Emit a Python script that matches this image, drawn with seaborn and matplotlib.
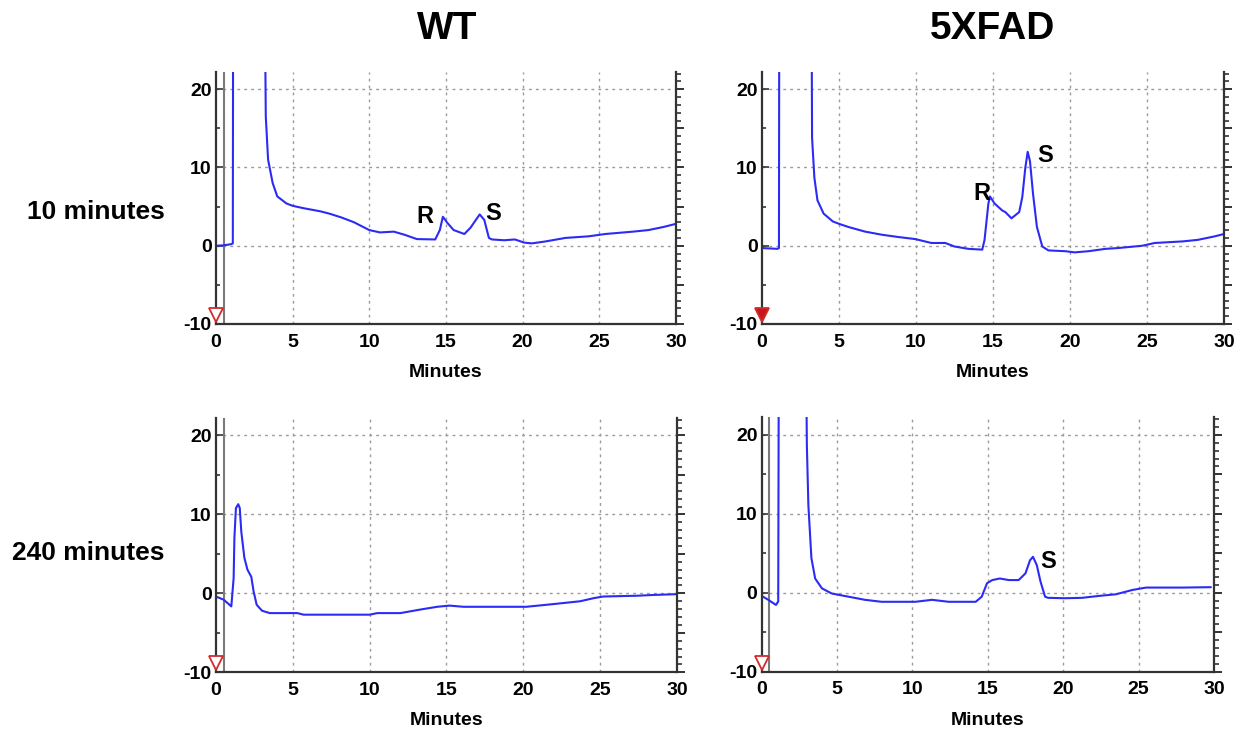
import numpy as np
import pandas as pd
import matplotlib.pyplot as plt
import matplotlib.transforms as mtransforms
from matplotlib.ticker import MultipleLocator
import seaborn as sns

# chromatogram traces (minutes, signal); values above the y limit are clipped spikes
wt10_t = [0, 0.5, 1.0, 1.1, 1.15, 2.2, 3.15, 3.25, 3.4, 3.7, 4.0, 4.6, 5.0, 5.7, 6.8, 7.4, 8.2, 9.0,
          10.0, 10.7, 11.6, 12.3, 13.1, 14.3, 14.6, 14.8, 15.1, 15.5, 16.2, 16.6, 17.2, 17.5, 17.8,
          18.0, 18.8, 19.5, 20.1, 20.6, 21.5, 22.8, 24.3, 25.4, 27.2, 28.2, 29.2, 30.0]
wt10_y = [0.0, 0.05, 0.2, 0.3, 80, 120, 40, 16.5, 11.0, 8.0, 6.3, 5.4, 5.1, 4.8, 4.4, 4.1, 3.6, 3.0,
          2.0, 1.7, 1.8, 1.4, 0.85, 0.8, 2.0, 3.7, 2.9, 2.0, 1.5, 2.3, 4.0, 3.3, 1.0,
          0.8, 0.7, 0.8, 0.4, 0.3, 0.55, 1.0, 1.2, 1.5, 1.8, 2.0, 2.4, 2.8]

fad10_t = [0, 0.5, 1.0, 1.1, 1.15, 2.2, 3.2, 3.25, 3.4, 3.6, 4.0, 4.6, 5.0, 5.6, 6.7, 7.8, 8.9, 9.95,
           11.0, 11.9, 12.5, 13.4, 14.3, 14.45, 14.7, 14.8, 15.1, 15.6, 15.8, 16.2, 16.7, 16.9,
           17.1, 17.25, 17.4, 17.6, 17.85, 18.2, 18.6, 19.7, 20.3, 21.2, 22.3, 23.1, 24.7, 25.5,
           27.3, 28.3, 29.4, 30.0]
fad10_y = [-0.3, -0.35, -0.4, -0.3, 80, 120, 40, 13.8, 8.7, 5.8, 4.1, 3.1, 2.8, 2.4, 1.8, 1.4, 1.1, 0.85,
           0.35, 0.35, -0.1, -0.4, -0.5, 0.75, 5.4, 6.3, 5.4, 4.5, 4.3, 3.5, 4.3, 6.2,
           10.0, 12.0, 10.8, 6.6, 2.4, -0.1, -0.6, -0.7, -0.85, -0.7, -0.4, -0.3, 0.0, 0.35,
           0.55, 0.75, 1.2, 1.5]

wt240_t = [0, 0.5, 1.0, 1.15, 1.2, 1.3, 1.45, 1.55, 1.65, 1.85, 2.05, 2.3, 2.45, 2.65, 3.0, 3.5,
           5.3, 5.7, 7.9, 10.0, 10.5, 12.0, 13.3, 14.4, 15.2, 16.1, 17.6, 20.2, 22.0, 23.7, 24.6,
           25.2, 27.4, 28.5, 30.0]
wt240_y = [-0.4, -0.8, -1.65, 1.9, 7.0, 10.8, 11.3, 10.8, 7.8, 4.5, 3.0, 2.1, 0.25, -1.45, -2.2, -2.5,
           -2.5, -2.7, -2.7, -2.7, -2.5, -2.5, -2.05, -1.7, -1.55, -1.7, -1.7, -1.7, -1.35, -1.0, -0.6,
           -0.4, -0.3, -0.2, -0.1]

fad240_t = [0, 0.44, 0.95, 1.1, 1.2, 2.0, 2.9, 3.0, 3.1, 3.3, 3.55, 4.0, 4.65, 5.75, 6.85, 7.95,
            10.2, 11.3, 12.4, 14.2, 14.6, 14.95, 15.3, 15.8, 16.4, 17.05, 17.5, 17.8, 18.0, 18.25,
            18.5, 18.8, 19.0, 20.1, 21.25, 22.4, 23.5, 24.6, 25.5, 27.9, 29.8]
fad240_y = [-0.4, -0.9, -1.55, -1.1, 80, 120, 40, 18.7, 11.1, 4.4, 1.8, 0.55, -0.1, -0.5, -0.9, -1.15,
            -1.15, -0.9, -1.15, -1.15, -0.5, 1.2, 1.6, 1.8, 1.6, 1.6, 2.45, 4.1, 4.55, 3.5,
            1.4, -0.5, -0.65, -0.7, -0.65, -0.4, -0.2, 0.35, 0.65, 0.65, 0.7]

col_titles = ["WT", "5XFAD"]
row_titles = ["10 minutes", "240 minutes"]

# peak labels per panel: (text, minutes, signal)
wt10_peaks = [("R", 13.6, 3.7), ("S", 18.1, 4.1)]
fad10_peaks = [("R", 14.3, 6.7), ("S", 18.4, 11.5)]
wt240_peaks = []
fad240_peaks = [("S", 19.0, 3.9)]

injection = (0, -10)   # injection marker
gray_line_x = 0.5      # marker line in the software trace

sns.set_style("white")
plt.rcParams["font.family"] = ["Liberation Sans", "DejaVu Sans"]
plt.rcParams["axes.unicode_minus"] = False
plt.rcParams["text.color"] = "black"
plt.rcParams["axes.labelcolor"] = "black"

fig = plt.figure(figsize=(12.49, 7.31), dpi=100)

panels = [
    ([0.1729, 0.5568, 0.3683, 0.3447], wt10_t, wt10_y, wt10_peaks, False, True),
    ([0.6101, 0.5568, 0.3699, 0.3447], fad10_t, fad10_y, fad10_peaks, True, False),
    ([0.1729, 0.0803, 0.3691, 0.3477], wt240_t, wt240_y, wt240_peaks, False, True),
    ([0.6098, 0.0812, 0.3621, 0.3477], fad240_t, fad240_y, fad240_peaks, False, True),
]

line_color = "#2b2bf5"

for rect, t, y, peaks, filled, show_gray in panels:
    ax = fig.add_axes(rect)
    df = pd.DataFrame({"Minutes": t, "Signal": y})
    sns.lineplot(data=df, x="Minutes", y="Signal", ax=ax, color=line_color,
                 linewidth=1.5, estimator=None, sort=False)
    ax.set_xlim(0, 30)
    ax.set_ylim(-10, 22.2)

    if show_gray:
        ax.axvline(gray_line_x, color="#7a7a7a", linewidth=1.5, zorder=1)

    # grid lines
    for gx in [5, 10, 15, 20, 25]:
        ax.axvline(gx, color="#9a9a9a", linestyle=(0, (2, 3)), linewidth=1.0, zorder=0)
    for gy in [0, 10, 20]:
        ax.axhline(gy, color="#9a9a9a", linestyle=(0, (2, 3)), linewidth=1.0, zorder=0)

    # injection triangle sitting on the bottom spine
    offset = mtransforms.ScaledTranslation(0, 6.5 / 72, fig.dpi_scale_trans)
    ax.plot([injection[0]], [injection[1]], marker="v", markersize=10,
            markerfacecolor="#c8161d" if filled else "white",
            markeredgecolor="#d42a2a", markeredgewidth=1.3, linestyle="none",
            transform=ax.transData + offset, clip_on=False, zorder=5)

    for label, px, py in peaks:
        ax.text(px, py, label, fontsize=17, fontweight="bold", ha="center", va="center")

    ax.spines["top"].set_visible(False)
    for s in ["left", "right", "bottom"]:
        ax.spines[s].set_color("#333333")
        ax.spines[s].set_linewidth(1.6)

    ax.xaxis.set_major_locator(MultipleLocator(5))
    ax.xaxis.set_minor_locator(MultipleLocator(1))
    ax.yaxis.set_major_locator(MultipleLocator(10))
    ax.yaxis.set_minor_locator(MultipleLocator(5))
    ax.tick_params(axis="x", which="major", direction="in", length=5, width=1.2,
                   labelsize=14, pad=7, colors="#333333", labelcolor="black")
    ax.tick_params(axis="x", which="minor", direction="in", length=3, width=1.2, colors="#333333")
    ax.tick_params(axis="y", which="major", direction="in", length=5, width=1.2,
                   labelsize=14, pad=3, colors="#333333", labelcolor="black")
    ax.tick_params(axis="y", which="minor", direction="in", length=3, width=1.2, colors="#333333")
    for lab in ax.get_xticklabels() + ax.get_yticklabels():
        lab.set_fontweight("bold")

    # right-hand axis with its own fine ticks
    rax = ax.twinx()
    rax.set_ylim(ax.get_ylim())
    rax.yaxis.set_major_locator(MultipleLocator(5))
    rax.yaxis.set_minor_locator(MultipleLocator(1))
    rax.tick_params(axis="y", which="major", direction="out", length=6, width=1.4,
                    labelright=False, colors="#333333")
    rax.tick_params(axis="y", which="minor", direction="out", length=3.5, width=1.2, colors="#333333")
    for s in rax.spines.values():
        s.set_visible(False)

    ax.set_xlabel("Minutes", fontsize=14, fontweight="bold", labelpad=9.5)
    ax.set_ylabel("")

fig.text(0.358, 0.960, col_titles[0], fontsize=28, fontweight="bold", ha="center", va="center")
fig.text(0.795, 0.960, col_titles[1], fontsize=28, fontweight="bold", ha="center", va="center")
fig.text(0.132, 0.710, row_titles[0], fontsize=19, fontweight="bold", ha="right", va="center")
fig.text(0.132, 0.2435, row_titles[1], fontsize=19, fontweight="bold", ha="right", va="center")

fig.savefig("out.png", dpi=100)
